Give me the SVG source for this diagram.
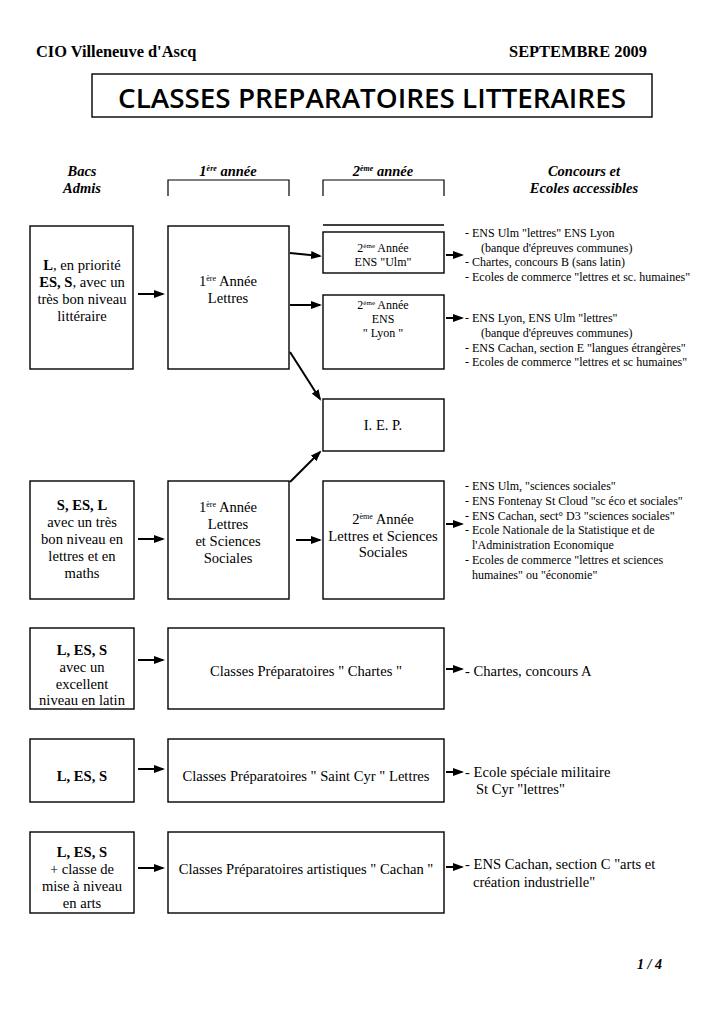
<svg xmlns="http://www.w3.org/2000/svg" width="724" height="1024" viewBox="0 0 724 1024">
<defs>
<style>
.box{fill:#fff;stroke:#000;stroke-width:1.4}
.t{font-family:"Liberation Serif","Times New Roman",serif;font-size:14.6px;fill:#000}
.c{text-anchor:middle}
.s{font-size:12px}
.b{font-weight:bold}
.h{font-family:"Liberation Serif","Times New Roman",serif;font-weight:bold;font-style:italic;font-size:14.5px;text-anchor:middle}
.sup{font-size:8px}
.arr{stroke:#000;stroke-width:2;fill:none;marker-end:url(#ah)}
.br{stroke:#000;stroke-width:1.2;fill:none}
</style>
<marker id="ah" markerUnits="userSpaceOnUse" markerWidth="11" markerHeight="9" refX="9" refY="4.5" orient="auto">
<path d="M0,0.5 L11,4.5 L0,8.5 z" fill="#000"/>
</marker>
</defs>
<rect width="724" height="1024" fill="#fff"/>

<g id="header">
<text class="t b" x="36" y="57" style="font-size:16.4px">CIO Villeneuve d'Ascq</text>
<text class="t b" x="647" y="57" text-anchor="end" style="font-size:16.4px">SEPTEMBRE 2009</text>
</g>

<g id="title">
<rect class="box" x="92" y="74" width="560" height="43"/>
<text x="372" y="108" text-anchor="middle" font-family="'Open Sans','DejaVu Sans',sans-serif" font-weight="600" font-size="27" textLength="508" lengthAdjust="spacingAndGlyphs">CLASSES PREPARATOIRES LITTERAIRES</text>
</g>

<g id="col-headers">
<text class="h" x="82" y="176">Bacs</text>
<text class="h" x="82" y="193">Admis</text>
<text class="h" x="228" y="176">1<tspan class="sup" dy="-5">ère</tspan><tspan dy="5"> année</tspan></text>
<text class="h" x="383" y="176">2<tspan class="sup" dy="-5">ème</tspan><tspan dy="5"> année</tspan></text>
<text class="h" x="584" y="176">Concours et</text>
<text class="h" x="584" y="193">Ecoles accessibles</text>
<path class="br" d="M168,196 V180 H289 V196"/>
<path class="br" d="M323,196 V180 H444 V196"/>
</g>

<!-- Row 1 -->
<g id="bac1">
<rect class="box" x="30" y="226" width="103" height="143"/>
<text class="t c" x="82" y="270"><tspan class="b">L</tspan>, en priorité</text>
<text class="t c" x="82" y="287"><tspan class="b">ES, S</tspan>, avec un</text>
<text class="t c" x="82" y="304">très bon niveau</text>
<text class="t c" x="82" y="321">littéraire</text>
</g>
<g id="annee1-lettres">
<rect class="box" x="168" y="226" width="121" height="143"/>
<text class="t c" x="228" y="286">1<tspan class="sup" dy="-5">ère</tspan><tspan dy="5"> Année</tspan></text>
<text class="t c" x="228" y="303">Lettres</text>
</g>
<g id="ens-ulm">
<line x1="323" y1="225" x2="444" y2="225" stroke="#000" stroke-width="1.4"/>
<rect class="box" x="323" y="232" width="121" height="41"/>
<text class="t c s" x="383" y="252">2<tspan class="sup" style="font-size:7px" dy="-4">ème</tspan><tspan dy="4"> Année</tspan></text>
<text class="t c s" x="383" y="266">ENS "Ulm"</text>
</g>
<g id="ens-lyon">
<rect class="box" x="323" y="295" width="121" height="74"/>
<text class="t c s" x="383" y="309">2<tspan class="sup" style="font-size:7px" dy="-4">ème</tspan><tspan dy="4"> Année</tspan></text>
<text class="t c s" x="383" y="323">ENS</text>
<text class="t c s" x="383" y="337">" Lyon "</text>
</g>
<g id="iep">
<rect class="box" x="323" y="399" width="121" height="52"/>
<text class="t c" x="383" y="430">I. E. P.</text>
</g>
<g id="concours-ulm">
<text class="t s" x="465" y="237">- ENS Ulm "lettres" ENS Lyon</text>
<text class="t s" x="481" y="252">(banque d'épreuves communes)</text>
<text class="t s" x="465" y="266">- Chartes, concours B (sans latin)</text>
<text class="t s" x="465" y="281">- Ecoles de commerce "lettres et sc. humaines"</text>
</g>
<g id="concours-lyon">
<text class="t s" x="465" y="322">- ENS Lyon, ENS Ulm "lettres"</text>
<text class="t s" x="481" y="337">(banque d'épreuves communes)</text>
<text class="t s" x="465" y="352">- ENS Cachan, section E "langues étrangères"</text>
<text class="t s" x="465" y="366">- Ecoles de commerce "lettres et sc humaines"</text>
</g>

<!-- Row 2 -->
<g id="bac2">
<rect class="box" x="30" y="481" width="104" height="118"/>
<text class="t c b" x="82" y="510">S, ES, L</text>
<text class="t c" x="82" y="527">avec un très</text>
<text class="t c" x="82" y="544">bon niveau en</text>
<text class="t c" x="82" y="561">lettres et en</text>
<text class="t c" x="82" y="578">maths</text>
</g>
<g id="annee1-lss">
<rect class="box" x="168" y="481" width="121" height="118"/>
<text class="t c" x="228" y="512">1<tspan class="sup" dy="-5">ère</tspan><tspan dy="5"> Année</tspan></text>
<text class="t c" x="228" y="529">Lettres</text>
<text class="t c" x="228" y="546">et Sciences</text>
<text class="t c" x="228" y="563">Sociales</text>
</g>
<g id="annee2-lss">
<rect class="box" x="323" y="481" width="121" height="118"/>
<text class="t c" x="383" y="524">2<tspan class="sup" dy="-5">ème</tspan><tspan dy="5"> Année</tspan></text>
<text class="t c" x="383" y="541">Lettres et Sciences</text>
<text class="t c" x="383" y="557">Sociales</text>
</g>
<g id="concours-lss">
<text class="t s" x="465" y="490">- ENS Ulm, "sciences sociales"</text>
<text class="t s" x="465" y="505">- ENS Fontenay St Cloud "sc éco et sociales"</text>
<text class="t s" x="465" y="520">- ENS Cachan, sect° D3 "sciences sociales"</text>
<text class="t s" x="465" y="534">- Ecole Nationale de la Statistique et de</text>
<text class="t s" x="472" y="549">l'Administration Economique</text>
<text class="t s" x="465" y="564">- Ecoles de commerce "lettres et sciences</text>
<text class="t s" x="472" y="579">humaines" ou "économie"</text>
</g>

<!-- Row 3 -->
<g id="bac3">
<rect class="box" x="30" y="628" width="104" height="81"/>
<text class="t c b" x="82" y="655">L, ES, S</text>
<text class="t c" x="82" y="672">avec un</text>
<text class="t c" x="82" y="689">excellent</text>
<text class="t c" x="82" y="705">niveau en latin</text>
</g>
<g id="chartes">
<rect class="box" x="168" y="628" width="276" height="81"/>
<text class="t c" x="306" y="676">Classes Préparatoires " Chartes "</text>
</g>
<g id="concours-chartes">
<text class="t" x="465" y="676">- Chartes, concours A</text>
</g>

<!-- Row 4 -->
<g id="bac4">
<rect class="box" x="30" y="739" width="104" height="63"/>
<text class="t c b" x="82" y="781">L, ES, S</text>
</g>
<g id="saint-cyr">
<rect class="box" x="168" y="739" width="276" height="63"/>
<text class="t c" x="306" y="781">Classes Préparatoires " Saint Cyr " Lettres</text>
</g>
<g id="concours-saint-cyr">
<text class="t" x="465" y="777">- Ecole spéciale militaire</text>
<text class="t" x="476" y="794">St Cyr "lettres"</text>
</g>

<!-- Row 5 -->
<g id="bac5">
<rect class="box" x="30" y="832" width="104" height="81"/>
<text class="t c b" x="82" y="857">L, ES, S</text>
<text class="t c" x="82" y="874">+ classe de</text>
<text class="t c" x="82" y="891">mise à niveau</text>
<text class="t c" x="82" y="908">en arts</text>
</g>
<g id="cachan">
<rect class="box" x="168" y="832" width="276" height="81"/>
<text class="t c" x="306" y="874">Classes Préparatoires artistiques " Cachan "</text>
</g>
<g id="concours-cachan">
<text class="t" x="465" y="869">- ENS Cachan, section C "arts et</text>
<text class="t" x="473" y="887">création industrielle"</text>
</g>

<g id="footer">
<text class="t b" x="662" y="969" text-anchor="end" style="font-style:italic;font-size:14px">1 / 4</text>
</g>

<g id="connectors">
<line class="arr" x1="138" y1="294" x2="163" y2="294"/>
<line class="arr" x1="290" y1="253" x2="320" y2="256"/>
<line class="arr" x1="290" y1="305" x2="320" y2="305"/>
<line class="arr" x1="290" y1="352" x2="320" y2="399"/>
<line class="arr" x1="446" y1="255" x2="462" y2="255"/>
<line class="arr" x1="446" y1="318" x2="462" y2="318"/>
<line class="arr" x1="138" y1="539" x2="163" y2="539"/>
<line class="arr" x1="296" y1="540" x2="320" y2="540"/>
<line class="arr" x1="290" y1="482" x2="320" y2="452"/>
<line class="arr" x1="446" y1="524" x2="462" y2="524"/>
<line class="arr" x1="138" y1="660" x2="163" y2="660"/>
<line class="arr" x1="446" y1="669" x2="462" y2="669"/>
<line class="arr" x1="138" y1="769" x2="163" y2="769"/>
<line class="arr" x1="446" y1="772" x2="462" y2="772"/>
<line class="arr" x1="138" y1="868" x2="163" y2="868"/>
<line class="arr" x1="446" y1="867" x2="462" y2="867"/>
</g>
</svg>
